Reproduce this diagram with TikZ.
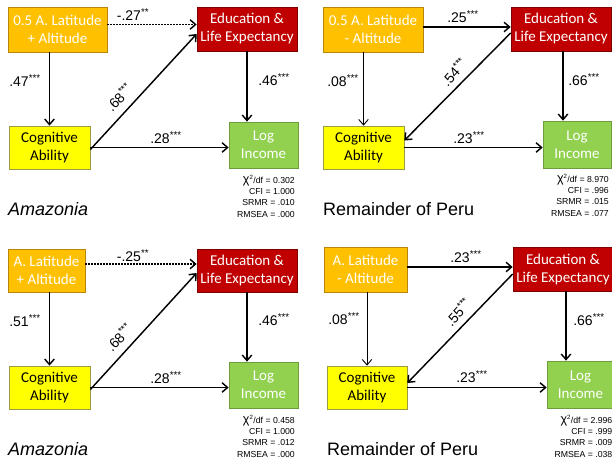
\documentclass[tikz,border=0pt]{standalone}
\usepackage{fontspec}
\setmainfont{Liberation Sans}
\newfontfamily\boxfont{Carlito}
\usetikzlibrary{arrows.meta,calc}
\definecolor{oraF}{HTML}{FFC000}
\definecolor{oraD}{HTML}{B8860B}
\definecolor{redF}{HTML}{C00000}
\definecolor{redD}{HTML}{7F0000}
\definecolor{yelF}{HTML}{FFFF00}
\definecolor{yelD}{HTML}{9A9A40}
\definecolor{grnF}{HTML}{92D050}
\definecolor{grnD}{HTML}{6E9E3C}
\newcommand\pcoef[2]{#1\textsuperscript{#2}}
\newcommand\chisq{{\fontsize{12.5}{11.3}\selectfont χ}\textsuperscript{2}}
\tikzset{
  bx/.style={draw,line width=0.7pt,inner sep=0pt,align=center,font=\boxfont\fontsize{15}{18}\selectfont},
  ora/.style={bx,fill=oraF,draw=oraD,text=white},
  redb/.style={bx,fill=redF,draw=redD,text=white},
  yel/.style={bx,fill=yelF,draw=yelD,text=black},
  grn/.style={bx,fill=grnF,draw=grnD,text=white},
  arr/.style={-{Straight Barb[length=5.5pt,width=9.5pt]},line width=1.45pt},
  thinarr/.style={arr,line width=0.9pt},
  dotarr/.style={arr,dash pattern=on 1.5pt off 1.5pt},
  lab/.style={font=\fontsize{14}{14}\selectfont,inner sep=0pt},
  stats/.style={font=\fontsize{8.7}{11.3}\selectfont,align=right,anchor=north east,inner sep=0pt},
  ttl/.style={font=\fontsize{18}{18}\selectfont,anchor=west,inner sep=0pt}
}
\begin{document}
\begin{tikzpicture}[x=1pt,y=-1pt]
\useasboundingbox (0,0) rectangle (612,460);
\clip (0,0) rectangle (612,460);
\fill[white] (0,0) rectangle (612,460);

% ---------- Panel 1 ----------
\node[ora,minimum width=99pt,minimum height=45pt] (o1) at (57.5,29.5) {0.5 A. Latitude\\+ Altitude};
\node[redb,minimum width=100pt,minimum height=44pt] (r1) at (247,29) {Education \&\\Life Expectancy};
\node[yel,minimum width=81pt,minimum height=43pt] (y1) at (49.5,147.5) {Cognitive\\Ability};
\node[grn,minimum width=69pt,minimum height=46pt] (g1) at (263.5,145) {Log\\Income};
\draw[dotarr] ([yshift=5pt]o1.east) -- ([yshift=5pt]o1.east -| r1.west);
\draw[arr] (o1.south -| y1.north) -- (y1.north);
\draw[arr] ([yshift=-2pt]y1.east) -- ([yshift=-5pt]r1.west);
\draw[arr] (y1.east) -- (y1.east -| g1.west);
\draw[arr] (r1.south) -- (r1.south |- g1.north);
\node[lab] (l1a) at (133,15) {\pcoef{-.27}{**}};
\node[lab] (l1b) at (25,81) {\pcoef{.47}{***}};
\node[lab,rotate=46] (l1c) at (119,97) {\pcoef{.68}{***}};
\node[lab] (l1d) at (166,138) {\pcoef{.28}{***}};
\node[lab] (l1e) at (274,80) {\pcoef{.46}{***}};
\node[stats] (s1) at (295,175) {\chisq/df = 0.302\\CFI = 1.000\\SRMR = .010\\RMSEA = .000};
\node[ttl] (t1) at (8,209) {\itshape Amazonia};

% ---------- Panel 2 ----------
\node[ora,minimum width=100pt,minimum height=45pt] (o2) at (373,29.5) {0.5 A. Latitude\\- Altitude};
\node[redb,minimum width=100pt,minimum height=44pt] (r2) at (561,29) {Education \&\\Life Expectancy};
\node[yel,minimum width=81pt,minimum height=43pt] (y2) at (363.5,147.5) {Cognitive\\Ability};
\node[grn,minimum width=68pt,minimum height=47pt] (g2) at (577,144.5) {Log\\Income};
\draw[arr] ([yshift=2.5pt]o2.east) -- ([yshift=2.5pt]o2.east -| r2.west);
\draw[thinarr] (o2.south -| y2.north) -- (y2.north);
\draw[arr] ([yshift=-4pt]r2.west) -- ([yshift=7pt]y2.east);
\draw[arr] (y2.east) -- (y2.east -| g2.west);
\draw[arr] ([xshift=2pt]r2.south) -- ([xshift=2pt]r2.south |- g2.north);
\node[lab] (l2a) at (463,17) {\pcoef{.25}{***}};
\node[lab] (l2b) at (343,81) {\pcoef{.08}{***}};
\node[lab,rotate=48] (l2c) at (454,72) {\pcoef{.54}{***}};
\node[lab] (l2d) at (469,138) {\pcoef{.23}{***}};
\node[lab] (l2e) at (584,80) {\pcoef{.66}{***}};
\node[stats] (s2) at (609,174) {\chisq/df = 8.970\\CFI = .996\\SRMR = .015\\RMSEA = .077};
\node[ttl] (t2) at (323,209) {Remainder of Peru};

% ---------- Panel 3 ----------
\node[ora,minimum width=77pt,minimum height=43pt] (o3) at (46.5,270.5) {A. Latitude\\+ Altitude};
\node[redb,minimum width=100pt,minimum height=43pt] (r3) at (247,270.5) {Education \&\\Life Expectancy};
\node[yel,minimum width=81pt,minimum height=43pt] (y3) at (49.5,387.5) {Cognitive\\Ability};
\node[grn,minimum width=69pt,minimum height=46pt] (g3) at (263.5,385) {Log\\Income};
\draw[dotarr] ([yshift=6.5pt]o3.east) -- ([yshift=6.5pt]o3.east -| r3.west);
\draw[arr] (o3.south -| y3.north) -- (y3.north);
\draw[arr] ([yshift=-2pt]y3.east) -- ([yshift=-2.5pt]r3.west);
\draw[arr] (y3.east) -- (y3.east -| g3.west);
\draw[arr] (r3.south) -- (r3.south |- g3.north);
\node[lab] (l3a) at (133,256) {\pcoef{-.25}{**}};
\node[lab] (l3b) at (25,321) {\pcoef{.51}{***}};
\node[lab,rotate=46] (l3c) at (119,337) {\pcoef{.68}{***}};
\node[lab] (l3d) at (166,378) {\pcoef{.28}{***}};
\node[lab] (l3e) at (274,320) {\pcoef{.46}{***}};
\node[stats] (s3) at (295,415) {\chisq/df = 0.458\\CFI = 1.000\\SRMR = .012\\RMSEA = .000};
\node[ttl] (t3) at (8,449) {\itshape Amazonia};

% ---------- Panel 4 ----------
\node[ora,minimum width=83pt,minimum height=45pt] (o4) at (365.5,269.5) {A. Latitude\\- Altitude};
\node[redb,minimum width=100pt,minimum height=44pt] (r4) at (563,269) {Education \&\\Life Expectancy};
\node[yel,minimum width=80pt,minimum height=43pt] (y4) at (367,387.5) {Cognitive\\Ability};
\node[grn,minimum width=67pt,minimum height=47pt] (g4) at (580.5,384.5) {Log\\Income};
\draw[arr] ([yshift=2.5pt]o4.east) -- ([yshift=2.5pt]o4.east -| r4.west);
\draw[thinarr] (o4.south -| y4.north) -- (y4.north);
\draw[arr] ([yshift=-5pt]r4.west) -- ([yshift=4.5pt]y4.east);
\draw[arr] (y4.east) -- (y4.east -| g4.west);
\draw[arr] ([xshift=3pt]r4.south) -- ([xshift=3pt]r4.south |- g4.north);
\node[lab] (l4a) at (466,257) {\pcoef{.23}{***}};
\node[lab] (l4b) at (344,319) {\pcoef{.08}{***}};
\node[lab,rotate=48] (l4c) at (458,312) {\pcoef{.55}{***}};
\node[lab] (l4d) at (472,377) {\pcoef{.23}{***}};
\node[lab] (l4e) at (589,320) {\pcoef{.66}{***}};
\node[stats] (s4) at (612.5,415) {\chisq/df = 2.996\\CFI = .999\\SRMR = .009\\RMSEA = .038};
\node[ttl] (t4) at (327,449) {Remainder of Peru};
\end{tikzpicture}
\end{document}
